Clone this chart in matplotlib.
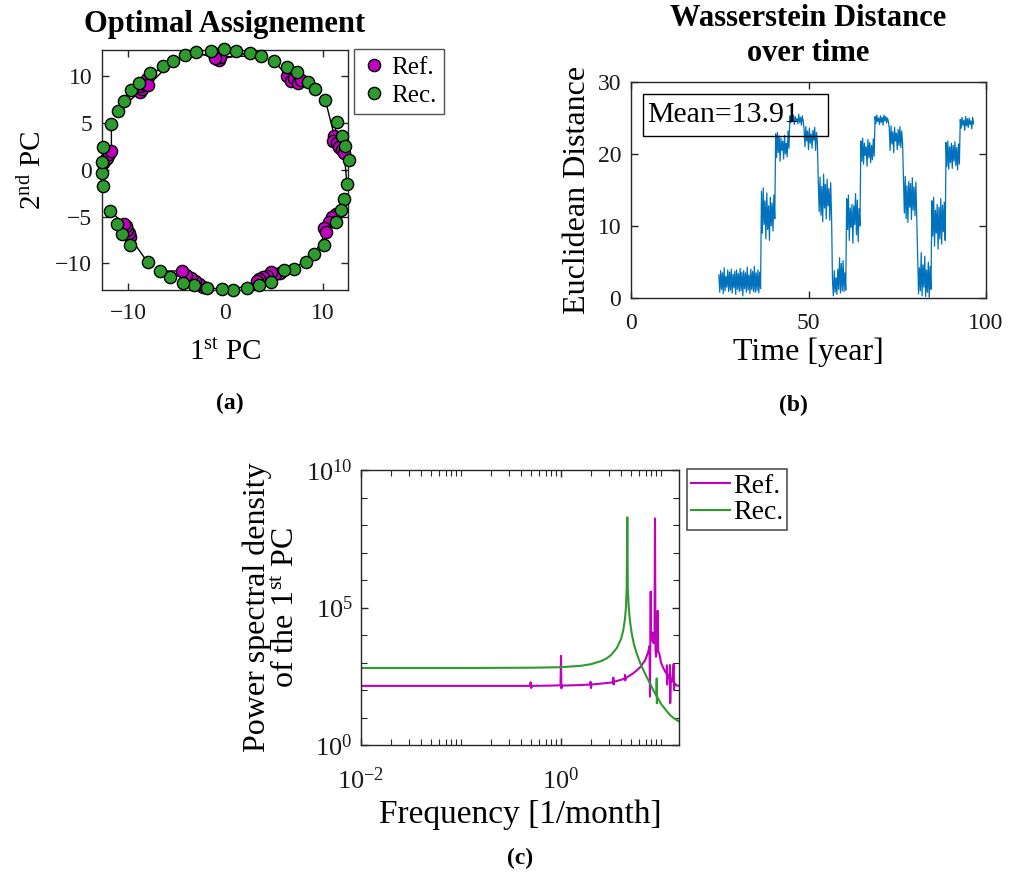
import numpy as np
import matplotlib
matplotlib.use("Agg")
import matplotlib.pyplot as plt
from matplotlib.patches import Rectangle
from matplotlib.ticker import FixedLocator, NullFormatter, FuncFormatter

plt.rcParams['font.family'] = ['Liberation Serif', 'DejaVu Serif']
plt.rcParams['mathtext.fontset'] = 'custom'
plt.rcParams['mathtext.rm'] = 'Liberation Serif'
plt.rcParams['mathtext.it'] = 'Liberation Serif:italic'
plt.rcParams['mathtext.bf'] = 'Liberation Serif:bold'

# ---------------- Panel (a): optimal assignment ----------------
rec_x = [-1.47, -0.17, 1.1, 2.5, 3.63, 5.0, 6.34, 7.36, 8.46, 9.25, 10.27, 11.47, 11.99,
         12.33, 12.67, 12.5, 12.19, 11.92, 11.4, 10.1, 9.14, 8.29, 7.09, 6.06, 4.73, 3.42,
         2.23, 0.75, -0.34, -1.88, -3.25, -4.35, -5.65, -6.75, -7.98, -9.76, -10.62, -11.13,
         -11.82, -12.57, -12.67, -12.67, -12.57, -11.71, -11.06, -10.45, -9.66, -8.9, -7.7,
         -6.44, -5.41, -4.18, -2.98]
rec_y = [12.7, 12.85, 12.7, 12.5, 12.17, 11.64, 10.93, 10.4, 9.4, 8.58, 7.44, 5.09, 3.59,
         2.53, 1.03, -1.57, -3.13, -4.31, -5.62, -8.04, -9.04, -9.82, -10.64, -10.75, -11.96,
         -12.31, -12.6, -12.85, -12.78, -12.6, -12.31, -12.06, -11.42, -10.82, -9.89, -8.04,
         -6.87, -5.8, -4.41, -1.74, -0.32, 0.85, 2.38, 4.88, 6.26, 7.33, 8.47, 9.22, 10.28,
         11.07, 11.6, 12.24, 12.53]
ref_x = [-1.0, -0.85, -0.75, -0.6, -0.5, 6.3, 6.7, 7.1, 7.5, 7.8, 11.2, 11.1, 11.5, 11.7,
         12.0, 12.2, 11.4, 11.0, 10.6, 10.1, 10.3, 5.6, 5.1, 4.7, 4.3, 3.9, 3.5, 3.3, -2.3,
         -2.7, -3.1, -3.5, -4.0, -4.5, -9.8, -9.9, -10.1, -10.2, -10.4, -12.6, -12.4, -12.2,
         -11.9, -11.7, -8.8, -8.6, -8.7, -8.4, -8.2, -8.0, -7.9, -1.2, -1.1]
ref_y = [12.35, 11.8, 12.15, 11.75, 12.05, 10.0, 9.5, 9.8, 9.3, 9.6, 3.6, 3.1, 2.8, 2.4,
         2.1, 1.8, -4.7, -5.1, -5.6, -6.2, -6.7, -11.0, -11.1, -10.95, -11.3, -11.5, -11.7,
         -11.9, -12.5, -12.2, -11.9, -11.6, -11.2, -10.8, -7.2, -6.8, -6.4, -6.0, -5.8, 0.7,
         1.0, 1.3, 1.7, 2.0, 8.3, 8.6, 8.9, 9.2, 9.5, 9.7, 9.0, 12.3, 11.9]

# ---------------- Panel (b): Wasserstein distance ----------------
t_start = 24.75
t_step = 0.25
seg_values = [
    [3.2, 0.8, 3.8, 1.2, 3.5, 0.6, 4.2, 1.0, 3.0, 1.5, 3.9, 0.9, 3.6, 1.1, 4.0, 0.7,
     3.3, 1.4, 3.7, 0.5, 3.9, 1.2, 3.4, 0.9, 4.1, 1.0, 3.6, 0.3, 3.8, 1.3, 3.5, 0.8,
     4.3, 1.1, 3.2, 0.6, 4.0, 1.2, 3.7, 0.9, 4.4, 0.8, 3.5, 1.0, 3.9, 0.7, 3.6, 1.3],
    [14.8, 9.0, 15.3, 10.2, 13.5, 8.2, 14.6, 9.5, 12.8, 8.0, 14.0, 10.0, 13.2, 9.3, 14.3, 11.0],
    [22.8, 19.5, 23.0, 20.2, 22.5, 19.0, 22.2, 20.5, 21.8, 19.3, 22.6, 20.0, 21.5, 19.6, 23.2, 20.8],
    [25.3, 24.3, 25.0, 24.6, 25.4, 24.1, 25.2, 24.5, 24.9, 24.2, 25.5, 24.4, 25.1, 24.0, 25.3, 24.6],
    [23.5, 21.0, 23.8, 21.8, 23.2, 20.6, 23.6, 21.5, 22.8, 20.8, 23.3, 21.9, 23.7, 20.5, 23.0, 21.6],
    [16.3, 12.0, 16.8, 11.5, 15.5, 10.6, 17.2, 12.5, 15.8, 11.0, 16.5, 12.8, 15.2, 10.8, 16.0, 11.3],
    [2.5, 0.3, 3.8, 0.8, 2.8, 0.5, 4.0, 1.2, 5.6, 0.7, 4.8, 1.0, 5.2, 0.9, 3.5, 1.1],
    [13.8, 9.5, 14.3, 8.0, 12.5, 9.8, 13.0, 7.6, 12.8, 10.2, 14.5, 8.8, 13.6, 7.8, 12.4, 10.0],
    [21.8, 19.0, 22.2, 18.6, 21.5, 19.8, 21.0, 18.3, 22.0, 19.5, 21.6, 18.8, 21.2, 19.2, 22.1, 19.7],
    [25.2, 24.2, 25.4, 24.5, 25.0, 24.1, 25.3, 24.4, 25.1, 24.0, 25.4, 24.6, 25.2, 24.3, 25.0, 24.5],
    [23.6, 20.5, 23.9, 21.4, 23.1, 20.2, 23.7, 21.8, 22.9, 20.6, 23.4, 21.2, 23.8, 20.9, 23.2, 21.5],
    [16.5, 11.8, 16.9, 11.0, 15.6, 10.5, 16.2, 12.6, 15.9, 10.9, 16.7, 12.2, 15.4, 11.4, 16.1, 10.8],
    [5.5, 0.6, 4.2, 1.0, 6.3, 0.3, 4.6, 1.5, 5.8, 0.2, 3.9, 0.8, 5.0, 0.1, 4.4, 1.2],
    [13.5, 8.6, 14.0, 7.2, 12.2, 9.0, 13.0, 6.8, 12.6, 8.2, 13.8, 7.5, 12.9, 9.2, 13.3, 8.0],
    [21.6, 18.3, 21.8, 17.9, 21.0, 18.8, 21.5, 18.0, 21.2, 19.0, 21.7, 18.4, 20.9, 17.8, 21.4, 18.6],
    [24.8, 23.6, 25.1, 24.0, 24.7, 23.3, 25.2, 23.9, 24.9, 23.7, 25.0, 24.1, 24.6, 23.5, 25.1, 24.2],
]
mean_text = 'Mean=13.91'

# ---------------- Panel (c): power spectral density (log10 values) ----------------
rec_logf = [-2.0, -1.0, -0.3, 0.0, 0.2, 0.3, 0.4, 0.457, 0.5, 0.557, 0.6, 0.623, 0.64,
            0.65, 0.657, 0.663, 0.668, 0.677, 0.69, 0.707, 0.73, 0.757, 0.79, 0.823, 0.86,
            0.89, 0.925, 0.955, 0.957, 0.959, 0.961, 1.0, 1.023, 1.06, 1.09, 1.13, 1.173, 1.18]
rec_logp = [2.80, 2.80, 2.81, 2.83, 2.88, 2.94, 3.05, 3.15, 3.27, 3.52, 3.85, 4.18, 4.6,
            5.03, 5.7, 8.28, 5.7, 5.03, 4.5, 4.06, 3.65, 3.33, 3.0, 2.73, 2.45,
            2.24, 1.98, 1.78, 2.42, 1.52, 1.75, 1.50, 1.39, 1.22, 1.09, 0.97, 0.87, 0.86]
ref_logf = [-2.0, -1.0, -0.31, -0.303, -0.298, -0.29, -0.1, -0.005, 0.0, 0.004, 0.01, 0.2,
            0.29, 0.295, 0.3, 0.305, 0.45, 0.52, 0.523, 0.527, 0.53, 0.6, 0.637, 0.64, 0.643,
            0.645, 0.72, 0.79, 0.84, 0.873, 0.885, 0.89, 0.893, 0.897, 0.9, 0.91, 0.917,
            0.925, 0.935, 0.94, 0.945, 0.95, 0.958, 0.962, 0.967, 0.972, 0.983, 1.0, 1.017,
            1.04, 1.055, 1.06, 1.062, 1.067, 1.085, 1.09, 1.092, 1.097, 1.11, 1.127, 1.13,
            1.135, 1.147, 1.18]
ref_logp = [2.15, 2.15, 2.15, 2.28, 2.07, 2.15, 2.16, 2.17, 3.24, 2.06, 2.16, 2.18,
            2.2, 2.3, 2.07, 2.2, 2.25, 2.28, 2.45, 2.2, 2.3, 2.37, 2.42, 2.55, 2.35,
            2.43, 2.6, 2.82, 3.07, 3.39, 3.6, 1.76, 3.6, 5.58, 3.8, 4.1, 4.07,
            3.7, 4.0, 8.24, 3.5, 3.21, 3.5, 3.5, 4.88, 3.4, 3.33, 3.0, 2.85,
            2.68, 2.6, 2.9, 2.2, 2.55, 2.42, 2.91, 1.52, 2.38, 2.3, 2.95, 2.0,
            2.25, 2.18, 2.15]

# ---------------- styling ----------------
MAGENTA = '#BF00BF'
GREEN = '#2E9B2E'
BLUE = '#0072BD'
AX_COL = '#262626'

fig = plt.figure(figsize=(10.11, 8.8), dpi=100)


def style_axes(ax, xpad=8, ypad=6, size=17):
    for s in ax.spines.values():
        s.set_color(AX_COL)
        s.set_linewidth(1.0)
    ax.tick_params(which='both', direction='in', top=True, right=True,
                   colors=AX_COL, labelcolor='#1a1a1a', labelsize=size)
    ax.tick_params(which='major', length=5, width=1.0)
    ax.tick_params(which='minor', length=3, width=0.8)
    ax.tick_params(axis='x', which='both', pad=xpad)
    ax.tick_params(axis='y', which='both', pad=ypad)


# Panel (a)
ax1 = fig.add_axes([102 / 1011, 1 - 290 / 880, 246 / 1011, 240 / 880])
for xr, yr, xc, yc in zip(ref_x, ref_y, rec_x, rec_y):
    ax1.plot([xr, xc], [yr, yc], color='black', lw=1.0, zorder=2)
ax1.plot(ref_x, ref_y, 'o', ms=8.8, mfc=MAGENTA, mec='black', mew=1.0, ls='none',
         zorder=3, clip_on=False, label='Ref.')
ax1.plot(rec_x, rec_y, 'o', ms=8.8, mfc=GREEN, mec='black', mew=1.0, ls='none',
         zorder=4, clip_on=False, label='Rec.')
ax1.set_xlim(-12.67, 12.6)
ax1.set_ylim(-12.84, 12.78)
ax1.set_xticks([-10, 0, 10])
ax1.set_yticks([-10, -5, 0, 5, 10])
style_axes(ax1, xpad=9, ypad=7)
ax1.set_title('Optimal Assignement', fontsize=22, fontweight='bold', pad=13)
ax1.set_xlabel('1$^{\\mathrm{st}}$ PC', fontsize=21, labelpad=12)
ax1.set_ylabel('2$^{\\mathrm{nd}}$ PC', fontsize=21, labelpad=6)
leg1 = ax1.legend(loc='upper left', bbox_to_anchor=(354 / 1011, 1 - 49 / 880),
                  bbox_transform=fig.transFigure, fontsize=18, frameon=True,
                  fancybox=False, edgecolor=AX_COL, handletextpad=0.2,
                  borderpad=0.3, labelspacing=0.2, handlelength=1.0, borderaxespad=0)
leg1.get_frame().set_linewidth(1.0)

# Panel (b)
ax2 = fig.add_axes([631 / 1011, 1 - 298 / 880, 355 / 1011, 216 / 880])
dist = np.concatenate([np.array(s, dtype=float) for s in seg_values])
tt = t_start + t_step * np.arange(len(dist))
ax2.plot(tt, dist, color=BLUE, lw=0.9)
ax2.set_xlim(0, 100)
ax2.set_ylim(0, 30)
ax2.set_xticks([0, 50, 100])
ax2.set_yticks([0, 10, 20, 30])
style_axes(ax2, xpad=11, ypad=7)
ax2.set_title('Wasserstein Distance\nover time', fontsize=22, fontweight='bold',
              pad=15, linespacing=1.3)
ax2.set_xlabel('Time [year]', fontsize=23, labelpad=2)
ax2.set_ylabel('Euclidean Distance', fontsize=23, labelpad=4)
ax2.add_patch(Rectangle((0.0338, 0.75), 0.521, 0.194, transform=ax2.transAxes,
                        fill=False, edgecolor='black', lw=1.0, zorder=5))
ax2.text(0.045, 0.847, mean_text, transform=ax2.transAxes, fontsize=21.5,
         va='center', ha='left', zorder=6)

# Panel (c)
ax3 = fig.add_axes([361 / 1011, 1 - 745 / 880, 318 / 1011, 275 / 880])
ax3.plot(10 ** np.array(ref_logf), 10 ** np.array(ref_logp), color=MAGENTA, lw=1.5,
         label='Ref.')
ax3.plot(10 ** np.array(rec_logf), 10 ** np.array(rec_logp), color=GREEN, lw=1.5,
         label='Rec.')
ax3.set_xscale('log')
ax3.set_yscale('log')
ax3.set_xlim(10 ** -2, 10 ** 1.18)
ax3.set_ylim(1, 1e10)
ax3.xaxis.set_major_locator(FixedLocator([1e-2, 1e0]))
minor_x = [m * 10.0 ** e for e in (-2, -1, 0, 1) for m in range(1, 10)]
minor_x = [v for v in minor_x if v not in (1e-2, 1e0)]
ax3.xaxis.set_minor_locator(FixedLocator(minor_x))
ax3.xaxis.set_minor_formatter(NullFormatter())
ax3.yaxis.set_major_locator(FixedLocator([1e0, 1e5, 1e10]))
ax3.yaxis.set_minor_locator(FixedLocator([10.0 ** e for e in range(1, 10) if e != 5]))
ax3.yaxis.set_minor_formatter(NullFormatter())
ax3.xaxis.set_major_formatter(FuncFormatter(lambda v, p: '$10^{%d}$' % round(np.log10(v))))
ax3.yaxis.set_major_formatter(FuncFormatter(lambda v, p: '$10^{%d}$' % round(np.log10(v))))
style_axes(ax3, xpad=16, ypad=6, size=19)
ax3.tick_params(which='minor', length=4)
ax3.set_xlabel('Frequency [1/month]', fontsize=24, labelpad=4)
ax3.set_ylabel('Power spectral density\nof the 1$^{\\mathrm{st}}$ PC', fontsize=23,
               labelpad=4, linespacing=1.0)
leg3 = ax3.legend(loc='upper left', bbox_to_anchor=(687 / 1011, 1 - 469 / 880),
                  bbox_transform=fig.transFigure, fontsize=20, frameon=True,
                  fancybox=False, edgecolor=AX_COL, handletextpad=0.1,
                  borderpad=0.15, labelspacing=0.05, handlelength=1.4, borderaxespad=0)
leg3.get_frame().set_linewidth(1.2)

# Panel captions
fig.text(230 / 1011, 1 - 403 / 880, '(a)', fontsize=17, fontweight='bold', ha='center', va='center')
fig.text(793 / 1011, 1 - 405 / 880, '(b)', fontsize=17, fontweight='bold', ha='center', va='center')
fig.text(520 / 1011, 1 - 858 / 880, '(c)', fontsize=17, fontweight='bold', ha='center', va='center')

fig.savefig('out.png', dpi=100)
